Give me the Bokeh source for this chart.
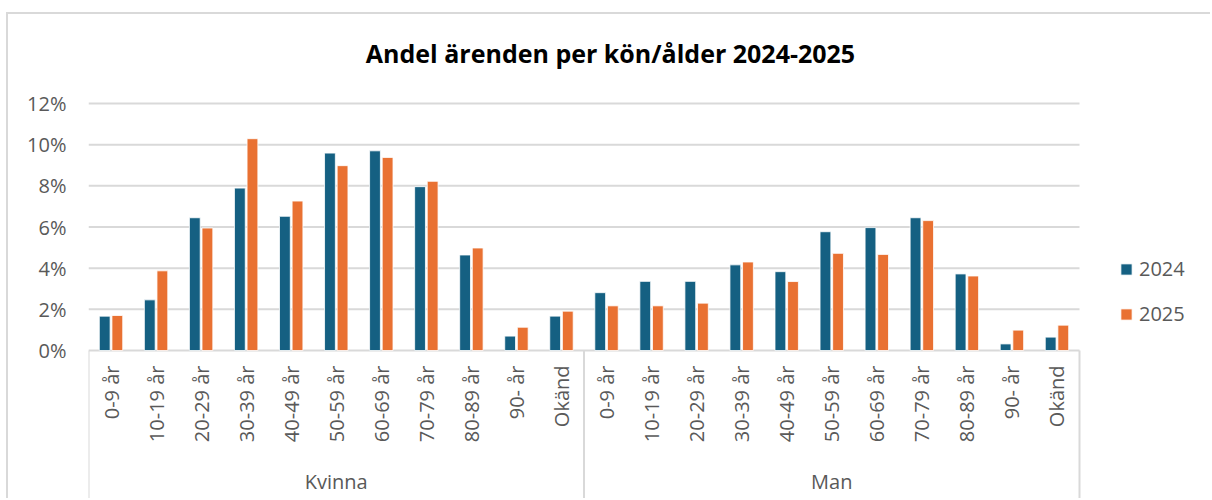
import math
from bokeh.plotting import figure
from bokeh.models import (Range1d, FixedTicker, CustomJSTickFormatter, ColumnDataSource,
                          Legend, LegendItem)
from bokeh.core.properties import value
from bokeh.embed import file_html
from bokeh.resources import INLINE

# ---------------- data ----------------
title_text = "Andel ärenden per kön/ålder 2024-2025"
ages = ["0-9 år", "10-19 år", "20-29 år", "30-39 år", "40-49 år", "50-59 år",
        "60-69 år", "70-79 år", "80-89 år", "90- år", "Okänd"]
genders = ["Kvinna", "Man"]
years = ["2024", "2025"]
kvinna_2024 = [1.67, 2.46, 6.45, 7.89, 6.52, 9.59, 9.70, 7.96, 4.64, 0.70, 1.67]
kvinna_2025 = [1.70, 3.87, 5.95, 10.29, 7.26, 8.98, 9.38, 8.22, 4.98, 1.13, 1.91]
man_2024 = [2.81, 3.36, 3.36, 4.16, 3.83, 5.77, 5.97, 6.45, 3.72, 0.32, 0.65]
man_2025 = [2.17, 2.17, 2.30, 4.30, 3.35, 4.72, 4.67, 6.31, 3.62, 0.99, 1.23]
y_ticks = [0, 2, 4, 6, 8, 10, 12]

# ---------------- layout ----------------
W, H = 1204, 486
FONT = "Open Sans"
C24, C25 = "#156082", "#E97132"
GRID = "#D9D9D9"
TXT = "#595959"

n = len(ages)
ng = len(genders)
left_px = 80
plot_w_px = 991                      # width of the category area in pixels
top_tick_px, zero_px = 89, 336       # figure pixels of the 12% and 0% lines
ppu = (zero_px - top_tick_px) / y_ticks[-1]
y_start = -(H - zero_px) / ppu
y_end = y_ticks[-1] + top_tick_px / ppu
px_per_x = plot_w_px / (n * ng)
x_end = (W - left_px) / px_per_x
title_x = (W / 2 - left_px) / px_per_x

p = figure(width=W, height=H, output_backend="svg", toolbar_location=None,
           x_range=Range1d(0, x_end), y_range=Range1d(y_start, y_end),
           min_border_left=left_px, min_border_right=0, min_border_top=0,
           min_border_bottom=0)
p.margin = (12, 0, 0, 6)
p.styles = {"border-top": "2px solid #D9D9D9", "border-left": "2px solid #D9D9D9"}
p.outline_line_color = None
p.background_fill_color = "white"
p.border_fill_color = "white"
p.xaxis.visible = False
p.xgrid.visible = False
p.ygrid.visible = False

ya = p.yaxis[0]
ya.ticker = FixedTicker(ticks=y_ticks)
ya.formatter = CustomJSTickFormatter(code="return tick.toFixed(0) + '%';")
ya.axis_line_color = None
ya.major_tick_line_color = None
ya.minor_tick_line_color = None
ya.major_tick_out = 0
ya.major_label_standoff = 22
ya.major_label_text_font = FONT
ya.major_label_text_font_size = "20px"
ya.major_label_text_color = TXT

# horizontal gridlines over the category area only
p.segment(x0=[0] * len(y_ticks), x1=[n * ng] * len(y_ticks), y0=y_ticks, y1=y_ticks,
          line_color=GRID, line_width=2)

# bars
xs, v24, v25 = [], [], []
for gi, vals in enumerate([(kvinna_2024, kvinna_2025), (man_2024, man_2025)]):
    for i in range(n):
        xs.append(gi * n + i + 0.5)
        v24.append(vals[0][i])
        v25.append(vals[1][i])
src = ColumnDataSource(dict(x24=[x - 0.14 for x in xs], x25=[x + 0.14 for x in xs], v24=v24, v25=v25))
bw = 0.24
r24 = p.vbar(x="x24", top="v24", width=bw, bottom=0, source=src, fill_color=C24,
             line_color="white", line_width=0.8)
r25 = p.vbar(x="x25", top="v25", width=bw, bottom=0, source=src, fill_color=C25,
             line_color="white", line_width=0.8)

# category axis structure
seps = [gi * n for gi in range(ng + 1)]
p.segment(x0=seps, x1=seps, y0=[0] * len(seps), y1=[y_start] * len(seps),
          line_color=GRID, line_width=2)

labels = [a for g in genders for a in ages]
p.text(x=xs, y=[0] * len(xs), text=labels, angle=math.pi / 2, y_offset=15,
       text_align="right", text_baseline="middle", text_font=value(FONT),
       text_font_size="20px", text_color=TXT)
p.text(x=[gi * n + n / 2 for gi in range(ng)], y=[0] * ng, text=genders, y_offset=131,
       text_align="center", text_baseline="middle", text_font=value(FONT),
       text_font_size="20px", text_color=TXT)

# title
p.text(x=[title_x], y=[y_ticks[-1]], text=[title_text], y_offset=-51,
       text_align="center", text_baseline="alphabetic", text_font=value(FONT),
       text_font_size="25px", text_font_style="bold", text_color="black")

# legend (inside the wide frame, right of the category area)
legend = Legend(items=[LegendItem(label=years[0], renderers=[r24]),
                       LegendItem(label=years[1], renderers=[r25])],
                location=(1031, 173), orientation="vertical",
                glyph_width=14, glyph_height=14, label_standoff=6, spacing=18,
                label_text_font=FONT, label_text_font_size="20px", label_text_color=TXT,
                border_line_color=None, background_fill_alpha=0, padding=10, margin=0)
p.add_layout(legend, "center")

open("out.html", "w").write(file_html(p, INLINE))
